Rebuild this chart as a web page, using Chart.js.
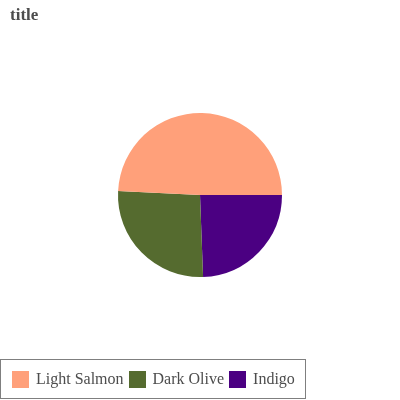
<!DOCTYPE html>
<html>
<head>
<meta charset="utf-8">
<script src="https://cdn.jsdelivr.net/npm/chart.js@4/dist/chart.umd.min.js"></script>
<style>
  body { margin: 0; background: #fff; }
  #wrap { position: relative; width: 400px; height: 400px; font-family: "Liberation Serif", serif; }
  #title { position: absolute; left: 10px; top: 5px; font-size: 17px; font-weight: bold; color: #4d4d4d; }
  #legend {
    position: absolute; left: 0; top: 359px; height: 40px; box-sizing: border-box;
    border: 1px solid #7f7f7f; display: flex; align-items: center;
    padding: 0 10px 0 11px; font-size: 16px; color: #4d4d4d;
  }
  .sw { width: 17px; height: 17px; margin-right: 7px; }
  .lab { margin-right: 5px; white-space: nowrap; }
  .lab:last-child { margin-right: 0; }
</style>
</head>
<body>
<div id="wrap">
  <canvas id="pie" width="400" height="400"></canvas>
  <div id="title">title</div>
  <div id="legend"></div>
</div>
<script>
  // categories in legend order
  const categories = ["Light Salmon", "Dark Olive", "Indigo"];
  const values = [49.2, 26.4, 24.4];
  const colors = ["#FFA07A", "#556B2F", "#4B0082"];

  // legend
  const legend = document.getElementById("legend");
  categories.forEach((name, i) => {
    const sw = document.createElement("div");
    sw.className = "sw";
    sw.style.background = colors[i];
    const lab = document.createElement("span");
    lab.className = "lab";
    lab.textContent = name;
    legend.appendChild(sw);
    legend.appendChild(lab);
  });

  // slices go the other way round, so feed them reversed
  const order = [2, 1, 0];

  new Chart(document.getElementById("pie").getContext("2d"), {
    type: "pie",
    data: {
      labels: order.map(i => categories[i]),
      datasets: [{
        data: order.map(i => values[i]),
        backgroundColor: order.map(i => colors[i]),
        borderWidth: 0,
      }],
    },
    options: {
      responsive: false,
      animation: false,
      rotation: 90,
      layout: { padding: { top: 113, bottom: 123, left: 118, right: 118 } },
      plugins: {
        legend: { display: false },
        title: { display: false },
        tooltip: { enabled: false },
      },
    },
  });
</script>
</body>
</html>
